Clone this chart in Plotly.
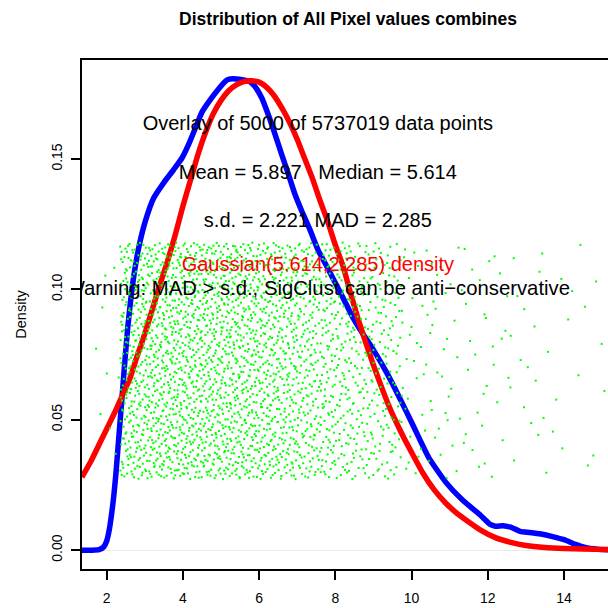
import plotly.graph_objects as go

# Kernel density of the pixel values (blue curve)
density_x = [1.35, 1.60, 1.80, 1.92, 2.00, 2.07, 2.13, 2.18, 2.24, 2.30, 2.36, 2.42,
             2.48, 2.55, 2.63, 2.72, 2.84, 3.01, 3.23, 3.50, 3.76, 3.98, 4.15, 4.33,
             4.50, 4.72, 4.94, 5.15, 5.30, 5.55, 5.75, 5.88, 6.07, 6.24, 6.42, 6.59,
             6.77, 6.94, 7.12, 7.33, 7.55, 7.77, 8.00, 8.21, 8.45, 8.70, 8.99, 9.35,
             9.70, 10.05, 10.45, 10.90, 11.35, 11.80, 12.05, 12.20, 12.40, 12.60,
             12.85, 13.10, 13.40, 13.70, 14.00, 14.30, 14.55, 14.90, 15.20]
density_y = [0.0000, 0.0000, 0.0002, 0.0012, 0.0035, 0.0080, 0.0140, 0.0200, 0.0290,
             0.0400, 0.0510, 0.0620, 0.0730, 0.0850, 0.0960, 0.1060, 0.1160, 0.1260,
             0.1350, 0.1410, 0.1460, 0.1505, 0.1556, 0.1620, 0.1680, 0.1728, 0.1770,
             0.1803, 0.1808, 0.1804, 0.1797, 0.1780, 0.1734, 0.1670, 0.1594, 0.1518,
             0.1441, 0.1365, 0.1300, 0.1230, 0.1150, 0.1090, 0.1025, 0.0965, 0.0895,
             0.0835, 0.0770, 0.0680, 0.0580, 0.0475, 0.0355, 0.0260, 0.0190, 0.0135,
             0.0100, 0.0092, 0.0094, 0.0088, 0.0072, 0.0068, 0.0062, 0.0052, 0.0040,
             0.0022, 0.0010, 0.0003, 0.0001]

# Gaussian reference density (red curve)
gauss_x = [1.35, 1.60, 1.80, 2.00, 2.20, 2.40, 2.60, 2.80, 3.00, 3.20, 3.40, 3.60,
           3.80, 4.00, 4.20, 4.40, 4.60, 4.80, 5.00, 5.20, 5.40, 5.60, 5.80, 6.00,
           6.20, 6.40, 6.60, 6.80, 7.00, 7.20, 7.40, 7.60, 7.80, 8.00, 8.20, 8.40,
           8.60, 8.80, 9.00, 9.20, 9.40, 9.60, 9.80, 10.00, 10.30, 10.60, 10.90,
           11.20, 11.50, 11.80, 12.20, 12.60, 13.00, 13.50, 14.00, 14.50, 15.20]
gauss_y = [0.0280, 0.0345, 0.0405, 0.0465, 0.0525, 0.0590, 0.0655, 0.0745, 0.0830,
           0.0925, 0.1020, 0.1110, 0.1210, 0.1320, 0.1420, 0.1520, 0.1605, 0.1675,
           0.1725, 0.1762, 0.1785, 0.1797, 0.1800, 0.1795, 0.1775, 0.1742, 0.1695,
           0.1640, 0.1575, 0.1500, 0.1425, 0.1340, 0.1260, 0.1170, 0.1090, 0.0985,
           0.0885, 0.0795, 0.0710, 0.0630, 0.0555, 0.0490, 0.0430, 0.0375, 0.0295,
           0.0230, 0.0180, 0.0140, 0.0108, 0.0078, 0.0048, 0.0030, 0.0018, 0.0010,
           0.0006, 0.0004, 0.0002]

# Overlay sample: number of points falling in each value interval
sample_edges = [1.6, 2.35, 2.5, 3.0, 3.5, 4.0, 4.5, 5.0, 5.5, 6.0, 6.5, 7.0, 7.5,
                8.0, 8.5, 9.0, 9.5, 9.75, 10.0, 10.5, 11.0, 11.5, 12.0, 12.5, 13.0,
                13.5, 14.0, 14.5, 15.2]
sample_counts = [10, 50, 190, 205, 210, 210, 208, 204, 196, 186, 172, 155, 135,
                 115, 100, 88, 35, 12, 22, 18, 15, 13, 11, 9, 8, 6, 5, 5]
jitter_band = [0.0272, 0.1180]

# Annotation lines
labels = [
    "Overlay of 5000 of 5737019 data points",
    "Mean = 5.897   Median = 5.614",
    "s.d. = 2.221 MAD = 2.285",
    "Gaussian(5.614,2.285) density",
    "Warning: MAD > s.d., SigClust can be anti\u2212conservative",
]
label_y = [0.1632, 0.1442, 0.1259, 0.1090, 0.0997]
label_colors = ["black", "black", "black", "red", "black"]
label_sizes = [20, 20, 20, 20, 20.3]
label_x = 7.54

x_ticks = [2, 4, 6, 8, 10, 12, 14]
y_ticks = [0.00, 0.05, 0.10, 0.15]
y_ticktext = ["0.00", "0.05", "0.10", "0.15"]


def radical_inverse(i, base):
    """Van der Corput radical inverse of i in the given base."""
    f, r = 1.0, 0.0
    while i > 0:
        f /= base
        r += f * (i % base)
        i //= base
    return r


# Place the overlay points with a leaped Halton sequence: the horizontal
# coordinate is mapped through the binned counts (piecewise-uniform quantile),
# the vertical one is spread across the jitter band.
total = sum(sample_counts)
cum = [0]
for c in sample_counts:
    cum.append(cum[-1] + c)

leap = 409
pts_x, pts_y = [], []
for n in range(1, total + 1):
    i = n * leap
    u = radical_inverse(i, 3) * total
    v = radical_inverse(i, 2)
    k = 0
    while k < len(sample_counts) - 1 and cum[k + 1] <= u:
        k += 1
    lo, hi = sample_edges[k], sample_edges[k + 1]
    frac = (u - cum[k]) / sample_counts[k]
    pts_x.append(lo + frac * (hi - lo))
    pts_y.append(jitter_band[0] + v * (jitter_band[1] - jitter_band[0]))

fig = go.Figure()
fig.add_trace(go.Scatter(x=density_x, y=density_y, mode="lines",
                         line=dict(color="#0000FF", width=5.5, shape="spline", smoothing=0.5),
                         hoverinfo="skip"))
fig.add_trace(go.Scatter(x=gauss_x, y=gauss_y, mode="lines",
                         line=dict(color="#FF0000", width=5.5, shape="spline", smoothing=0.5),
                         hoverinfo="skip"))
fig.add_trace(go.Scatter(x=pts_x, y=pts_y, mode="markers",
                         marker=dict(symbol="square", size=2, color="#00FF00",
                                     line=dict(width=0)),
                         hoverinfo="skip"))
fig.add_trace(go.Scatter(x=[label_x] * len(labels), y=label_y, mode="text",
                         text=labels, textposition="middle center",
                         textfont=dict(size=label_sizes, color=label_colors,
                                       family="Liberation Sans, Arial, sans-serif"),
                         cliponaxis=True, hoverinfo="skip"))

fig.update_layout(
    width=608, height=608,
    margin=dict(l=82, r=0, t=60, b=39, pad=0),
    paper_bgcolor="white", plot_bgcolor="white",
    showlegend=False,
    font=dict(family="Liberation Sans, Arial, sans-serif", color="black", size=14),
    title=dict(text="<b>Distribution of All Pixel values combines</b>",
               x=348 / 608, xref="container", xanchor="center",
               y=1 - 19 / 608, yref="container", yanchor="middle",
               font=dict(size=17.5, color="black")),
    xaxis=dict(range=[1.352, 15.154], tickvals=x_ticks, ticks="outside",
               ticklen=9, tickwidth=1.5, tickcolor="black",
               showline=True, linecolor="black", linewidth=1.5, mirror=True,
               showgrid=False, zeroline=False, tickfont=dict(size=14),
               ticklabelstandoff=6),
    yaxis=dict(range=[-0.00723, 0.1880], tickvals=y_ticks, ticktext=y_ticktext,
               tickangle=-90, ticks="outside", ticklen=9, tickwidth=1.5,
               tickcolor="black", showline=True, linecolor="black", linewidth=1.5,
               mirror=False, showgrid=False, zeroline=True,
               zerolinecolor="#EBEBEB", zerolinewidth=1,
               tickfont=dict(size=14), ticklabelstandoff=4,
               title=dict(text="Density", font=dict(size=14.5), standoff=19)),
)

fig.write_html("out.html")
